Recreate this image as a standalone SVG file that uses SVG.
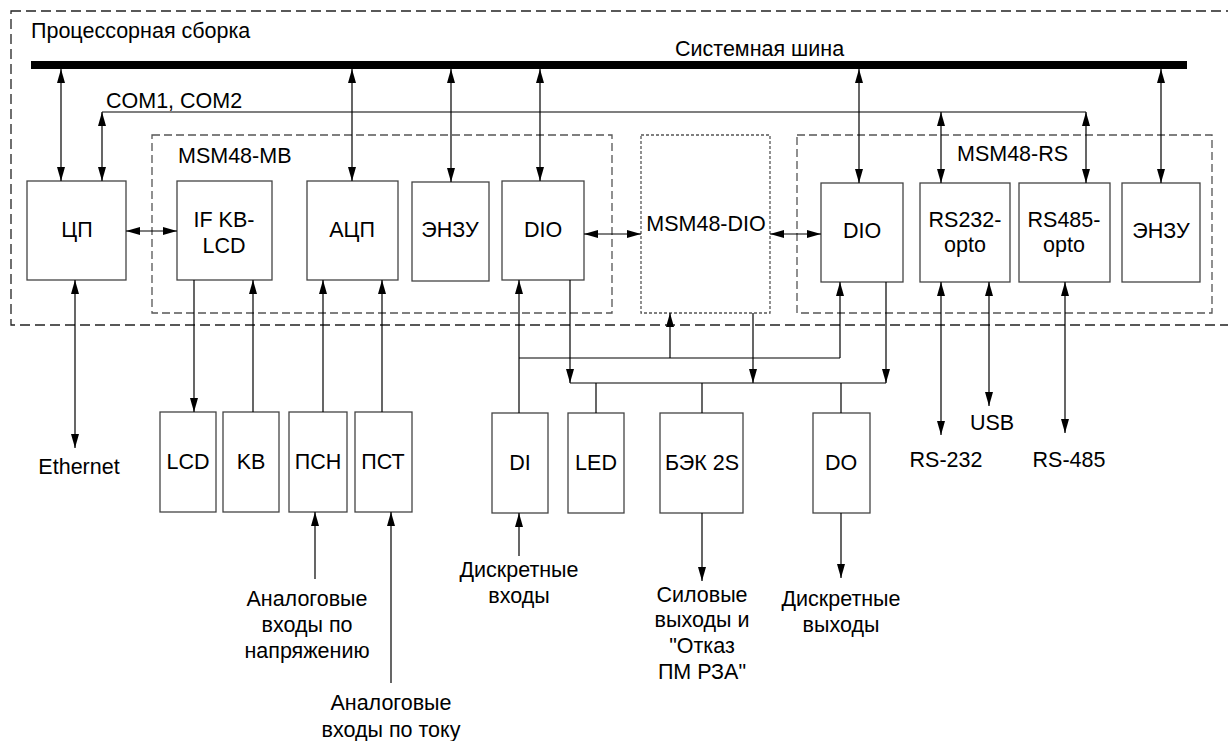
<svg xmlns="http://www.w3.org/2000/svg" width="1228" height="741" viewBox="0 0 1228 741">
<defs>
<marker id="a" viewBox="0 0 14 8" markerWidth="14" markerHeight="8" refX="14" refY="4" orient="auto-start-reverse" markerUnits="userSpaceOnUse">
<path d="M0,0 L14,4 L0,8 z" fill="#000"/>
</marker>
<style>
.box{fill:#fff;stroke:#444;stroke-width:1.3}
.ln{stroke:#000;stroke-width:1.2;fill:none}
.da{marker-end:url(#a)}
.dd{marker-start:url(#a);marker-end:url(#a)}
.t{font-family:"Liberation Sans",Arial,sans-serif;font-size:21.5px;fill:#000}
.c{text-anchor:middle}
.grp{fill:none;stroke:#555;stroke-width:1.3;stroke-dasharray:8 4}
.dot{fill:none;stroke:#555;stroke-width:1.3;stroke-dasharray:3 2}
</style>
</defs>
<rect fill="#fff" width="1228" height="741"/>

<g id="processor-assembly">
<rect x="11" y="11" width="1225" height="314" fill="none" stroke="#222" stroke-width="1.3" stroke-dasharray="10 5"/>
<text class="t" x="31" y="38">Процессорная сборка</text>
</g>

<g id="system-bus">
<rect x="31" y="61" width="1156" height="8" fill="#000"/>
<text class="t" x="675" y="56">Системная шина</text>
</g>

<g id="msm48-mb">
<rect class="grp" x="152" y="135" width="460" height="178"/>
<text class="t" x="178" y="163">MSM48-MB</text>
</g>
<g id="msm48-rs">
<rect class="grp" x="797" y="135" width="415" height="178"/>
<text class="t" x="957" y="161">MSM48-RS</text>
</g>
<g id="msm48-dio">
<rect class="dot" x="641" y="135" width="129" height="178"/>
<text class="t c" x="706" y="231">MSM48-DIO</text>
</g>

<g id="cpu"><rect class="box" x="27" y="181" width="99" height="99"/><text class="t c" x="77" y="237">ЦП</text></g>
<g id="if-kb-lcd"><rect class="box" x="177" y="181" width="95" height="99"/><text class="t c" x="224" y="227">IF KB-</text><text class="t c" x="224" y="253">LCD</text></g>
<g id="adc"><rect class="box" x="307" y="181" width="91" height="99"/><text class="t c" x="352" y="237">АЦП</text></g>
<g id="nvram-mb"><rect class="box" x="412" y="182" width="77" height="99"/><text class="t c" x="450" y="237">ЭНЗУ</text></g>
<g id="dio-mb"><rect class="box" x="502" y="181" width="82" height="99"/><text class="t c" x="543" y="237">DIO</text></g>
<g id="dio-rs"><rect class="box" x="821" y="183" width="82" height="99"/><text class="t c" x="862" y="238">DIO</text></g>
<g id="rs232-opto"><rect class="box" x="920" y="183" width="90" height="99"/><text class="t c" x="965" y="227">RS232-</text><text class="t c" x="965" y="252">opto</text></g>
<g id="rs485-opto"><rect class="box" x="1019" y="183" width="91" height="99"/><text class="t c" x="1064" y="227">RS485-</text><text class="t c" x="1064" y="252">opto</text></g>
<g id="nvram-rs"><rect class="box" x="1122" y="183" width="78" height="99"/><text class="t c" x="1161" y="238">ЭНЗУ</text></g>

<g id="lcd"><rect class="box" x="160" y="412" width="56" height="100"/><text class="t c" x="188" y="469">LCD</text></g>
<g id="kb"><rect class="box" x="223" y="412" width="56" height="100"/><text class="t c" x="251" y="469">KB</text></g>
<g id="psn"><rect class="box" x="289" y="412" width="58" height="100"/><text class="t c" x="318" y="469">ПСН</text></g>
<g id="pst"><rect class="box" x="355" y="412" width="57" height="100"/><text class="t c" x="383" y="469">ПСТ</text></g>
<g id="di"><rect class="box" x="492" y="413" width="56" height="100"/><text class="t c" x="520" y="470">DI</text></g>
<g id="led"><rect class="box" x="568" y="413" width="56" height="100"/><text class="t c" x="596" y="470">LED</text></g>
<g id="bek"><rect class="box" x="660" y="413" width="83" height="100"/><text class="t c" x="702" y="470">БЭК 2S</text></g>
<g id="do"><rect class="box" x="813" y="413" width="57" height="100"/><text class="t c" x="841" y="470">DO</text></g>

<g id="labels">
<text class="t c" x="79" y="474">Ethernet</text>
<text class="t c" x="307" y="606">Аналоговые</text>
<text class="t c" x="307" y="632">входы по</text>
<text class="t c" x="307" y="658">напряжению</text>
<text class="t c" x="391" y="710">Аналоговые</text>
<text class="t c" x="391" y="737">входы по току</text>
<text class="t c" x="519" y="577">Дискретные</text>
<text class="t c" x="519" y="603">входы</text>
<text class="t c" x="702" y="602">Силовые</text>
<text class="t c" x="702" y="627">выходы и</text>
<text class="t c" x="702" y="653">"Отказ</text>
<text class="t c" x="702" y="679">ПМ РЗА"</text>
<text class="t c" x="841" y="606">Дискретные</text>
<text class="t c" x="841" y="632">выходы</text>
<text class="t c" x="992" y="430">USB</text>
<text class="t c" x="946" y="467">RS-232</text>
<text class="t c" x="1069" y="467">RS-485</text>
<text class="t" x="106" y="108">COM1, COM2</text>
</g>

<g id="connectors">
<line class="ln dd" x1="61" y1="69" x2="61" y2="181"/>
<line class="ln dd" x1="352" y1="69" x2="352" y2="181"/>
<line class="ln dd" x1="451" y1="69" x2="451" y2="182"/>
<line class="ln dd" x1="540" y1="69" x2="540" y2="181"/>
<line class="ln dd" x1="859" y1="69" x2="859" y2="183"/>
<line class="ln dd" x1="1161" y1="69" x2="1161" y2="183"/>
<line class="ln" x1="102" y1="112" x2="1086" y2="112"/>
<line class="ln dd" x1="102" y1="112" x2="102" y2="181"/>
<line class="ln dd" x1="941" y1="112" x2="941" y2="183"/>
<line class="ln dd" x1="1086" y1="112" x2="1086" y2="183"/>
<line class="ln dd" x1="126" y1="231" x2="177" y2="231"/>
<line class="ln dd" x1="584" y1="234" x2="641" y2="234"/>
<line class="ln dd" x1="770" y1="234" x2="821" y2="234"/>
<line class="ln dd" x1="75" y1="280" x2="75" y2="448"/>
<line class="ln da" x1="194" y1="280" x2="194" y2="412"/>
<line class="ln da" x1="253" y1="412" x2="253" y2="280"/>
<line class="ln da" x1="323" y1="412" x2="323" y2="280"/>
<line class="ln da" x1="382" y1="412" x2="382" y2="280"/>
<line class="ln da" x1="315" y1="579" x2="315" y2="512"/>
<line class="ln da" x1="391" y1="683" x2="391" y2="512"/>
<line class="ln da" x1="519" y1="413" x2="519" y2="280"/>
<line class="ln" x1="519" y1="358" x2="840" y2="358"/>
<line class="ln da" x1="840" y1="358" x2="840" y2="282"/>
<line class="ln da" x1="670" y1="358" x2="670" y2="313"/>
<line class="ln da" x1="570" y1="280" x2="570" y2="383"/>
<line class="ln da" x1="753" y1="313" x2="753" y2="383"/>
<line class="ln da" x1="886" y1="282" x2="886" y2="383"/>
<line class="ln" x1="570" y1="383" x2="886" y2="383"/>
<line class="ln" x1="596" y1="383" x2="596" y2="413"/>
<line class="ln" x1="702" y1="383" x2="702" y2="413"/>
<line class="ln" x1="841" y1="383" x2="841" y2="413"/>
<line class="ln da" x1="702" y1="513" x2="702" y2="581"/>
<line class="ln da" x1="841" y1="513" x2="841" y2="578"/>
<line class="ln da" x1="519" y1="556" x2="519" y2="513"/>
<line class="ln dd" x1="941" y1="282" x2="941" y2="435"/>
<line class="ln dd" x1="989" y1="282" x2="989" y2="406"/>
<line class="ln dd" x1="1065" y1="282" x2="1065" y2="433"/>
</g>
</svg>
